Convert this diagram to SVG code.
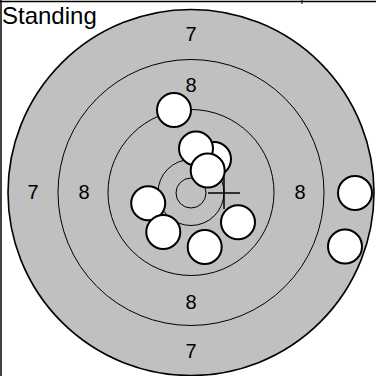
<svg xmlns="http://www.w3.org/2000/svg" width="376" height="376" viewBox="0 0 376 376">
  <style>
    .ring { fill: none; stroke: #000; stroke-width: 1; }
    .shot { fill: #fff; stroke: #000; stroke-width: 2; }
    .lbl { font-family: "Liberation Sans", Arial, sans-serif; font-size: 20px; fill: #000; text-anchor: middle; }
    .title { font-family: "Liberation Sans", Arial, sans-serif; font-size: 24px; fill: #000; }
  </style>
  <rect width="376" height="376" fill="#fff"/>
  <g id="frame" stroke="#000" fill="none">
    <line x1="0" y1="1.5" x2="376" y2="1.5" stroke-width="1.3"/>
    <line x1="1" y1="0" x2="1" y2="376" stroke-width="1.5"/>
    <line x1="302" y1="0" x2="302" y2="4" stroke-width="1"/>
  </g>
  <g id="target">
    <circle cx="191" cy="192.5" r="183" fill="#c0c0c0" stroke="#000" stroke-width="1.6"/>
    <circle class="ring" cx="191" cy="192.5" r="133"/>
    <circle class="ring" cx="191" cy="192.5" r="83"/>
    <circle class="ring" cx="191" cy="192.5" r="33"/>
    <circle class="ring" cx="191" cy="193" r="15"/>
  </g>
  <g id="labels">
    <text class="lbl" x="191" y="41">7</text>
    <text class="lbl" x="191" y="92">8</text>
    <text class="lbl" x="33" y="199">7</text>
    <text class="lbl" x="84" y="199">8</text>
    <text class="lbl" x="300" y="199">8</text>
    <text class="lbl" x="191" y="309">8</text>
    <text class="lbl" x="191" y="358">7</text>
  </g>
  <g id="crosshair" stroke="#000" stroke-width="1.5">
    <line x1="208" y1="193" x2="240" y2="193"/>
    <line x1="224" y1="177" x2="224" y2="209"/>
  </g>
  <g id="shots">
    <circle class="shot" cx="174" cy="110" r="17"/>
    <circle class="shot" cx="214" cy="159" r="17"/>
    <circle class="shot" cx="196" cy="148.5" r="17"/>
    <circle class="shot" cx="207.7" cy="170.5" r="17"/>
    <circle class="shot" cx="148.2" cy="203.3" r="17"/>
    <circle class="shot" cx="163.3" cy="232" r="17"/>
    <circle class="shot" cx="238" cy="222.3" r="17"/>
    <circle class="shot" cx="204.7" cy="247" r="17"/>
    <circle class="shot" cx="355" cy="193" r="17"/>
    <circle class="shot" cx="345" cy="246.5" r="17"/>
  </g>
  <text id="title" class="title" x="2" y="24">Standing</text>
</svg>
